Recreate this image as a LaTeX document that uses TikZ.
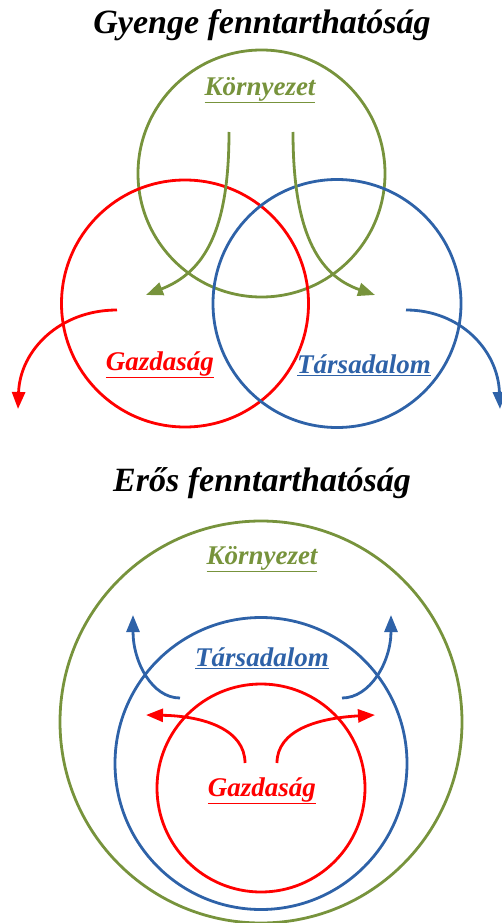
\documentclass[tikz,border=0pt]{standalone}
\usepackage{fontspec}
\setmainfont{Liberation Serif}
\usetikzlibrary{arrows.meta}
\definecolor{envgreen}{RGB}{119,147,60}
\definecolor{socblue}{RGB}{46,98,168}
\definecolor{ecored}{RGB}{255,0,0}
\tikzset{
  ring/.style={line width=2.8pt},
  flow/.style={line width=2.8pt,-{Triangle[length=17pt,width=13pt]}},
  title/.style={font=\fontsize{34}{38}\selectfont\bfseries\itshape,inner sep=0pt},
  lbl/.style={font=\fontsize{27}{30}\selectfont\bfseries\itshape,inner sep=0pt},
}
\newcommand{\ul}[1]{\underline{#1}}
\begin{document}
\begin{tikzpicture}[x=1pt,y=-1pt]
\useasboundingbox (0,0) rectangle (502,923);
% ---------- weak sustainability ----------
\node[title] (t1) at (262,25) {Gyenge fenntarthatóság};
\coordinate (kc) at (261.5,173.5);
\coordinate (gc) at (185,303.5);
\coordinate (tc) at (337,303.5);
\draw[ring,envgreen] (kc) circle[radius=123.5pt];
\draw[ring,ecored] (gc) circle[radius=123.5pt];
\draw[ring,socblue] (tc) circle[radius=124pt];
\node[lbl,envgreen] (k1) at (260,90) {\ul{Környezet}};
\node[lbl,ecored] (g1) at (160,365) {\ul{Gazdaság}};
\node[lbl,socblue] (s1) at (364,365) {\ul{Társadalom}};
\coordinate (a1s) at (229,132); \coordinate (a1e) at (146,295);
\coordinate (a2s) at (293,132); \coordinate (a2e) at (375,295);
\coordinate (a3s) at (117,310); \coordinate (a3e) at (18,409);
\coordinate (a4s) at (406,310); \coordinate (a4e) at (500,409);
\draw[flow,envgreen] (a1s) .. controls (229,230) and (205,272) .. (a1e);
\draw[flow,envgreen] (a2s) .. controls (293,230) and (317,275) .. (a2e);
\draw[flow,ecored] (a3s) .. controls (60,310) and (20,350) .. (a3e);
\draw[flow,socblue] (a4s) .. controls (460,310) and (498,350) .. (a4e);
% ---------- strong sustainability ----------
\node[title] (t2) at (262,483) {Erős fenntarthatóság};
\coordinate (kc2) at (261,722);
\coordinate (tc2) at (261,763.5);
\coordinate (gc2) at (261,788);
\draw[ring,envgreen] (kc2) circle[radius=201pt];
\draw[ring,socblue] (tc2) circle[radius=146pt];
\draw[ring,ecored] (gc2) circle[radius=104pt];
\node[lbl,envgreen] (k2) at (262,559) {\ul{Környezet}};
\node[lbl,socblue] (s2) at (262,658) {\ul{Társadalom}};
\node[lbl,ecored] (g2) at (262,791) {\ul{Gazdaság}};
\coordinate (b1s) at (180,698); \coordinate (b1e) at (133,615);
\coordinate (b2s) at (342,698); \coordinate (b2e) at (391,615);
\coordinate (r1s) at (245,763); \coordinate (r1e) at (146,715);
\coordinate (r2s) at (277,763); \coordinate (r2e) at (375,715);
\draw[flow,socblue] (b1s) .. controls (152,698) and (133,662) .. (b1e);
\draw[flow,socblue] (b2s) .. controls (370,698) and (391,662) .. (b2e);
\draw[flow,ecored] (r1s) .. controls (245,730) and (205,716) .. (r1e);
\draw[flow,ecored] (r2s) .. controls (277,730) and (318,718) .. (r2e);
\end{tikzpicture}
\end{document}
